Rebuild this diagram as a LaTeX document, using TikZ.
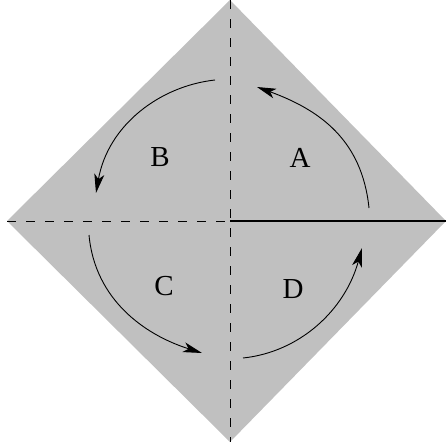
\documentclass[tikz,border=0pt]{standalone}
\usepackage{fontspec}
\setmainfont{Liberation Serif}
\usetikzlibrary{arrows.meta}
\definecolor{diagray}{RGB}{192,192,192}
\tikzset{
  fold/.style={line width=1pt, dash pattern=on 9pt off 10pt},
  cut/.style={line width=2pt},
  turn/.style={line width=0.9pt, -{Stealth[length=19pt,width=10pt,inset=5pt]}},
  lab/.style={font=\fontsize{29}{29}\selectfont, inner sep=0pt}
}
\begin{document}
\begin{tikzpicture}[x=1pt,y=-1pt]
\useasboundingbox (0,0) rectangle (448,447);
\coordinate (T) at (230,0);
\coordinate (R) at (446,221);
\coordinate (Bt) at (230,442);
\coordinate (L) at (7,221);
\coordinate (O) at (230,221);
\fill[diagray] (T) -- (R) -- (Bt) -- (L) -- cycle;
\draw[fold] (T) -- (Bt);
\draw[fold] (L) -- (O);
\draw[cut] (O) -- (R);
\node[lab] (a) at (300,158) {A};
\node[lab] (b) at (160,157.5) {B};
\node[lab] (c) at (164,286) {C};
\node[lab] (d) at (293,289.5) {D};
\coordinate (a1) at (369,208);
\coordinate (a2) at (257,87);
\coordinate (b1) at (215,80);
\coordinate (b2) at (96,193);
\coordinate (c1) at (89,235);
\coordinate (c2) at (202,353);
\coordinate (d1) at (243,358);
\coordinate (d2) at (362,248);
\draw[turn] (a1) .. controls (362,140) and (320,110) .. (a2);
\draw[turn] (b1) .. controls (160,86) and (108,125) .. (b2);
\draw[turn] (c1) .. controls (95,300) and (145,335) .. (c2);
\draw[turn] (d1) .. controls (300,352) and (345,310) .. (d2);
\end{tikzpicture}
\end{document}
